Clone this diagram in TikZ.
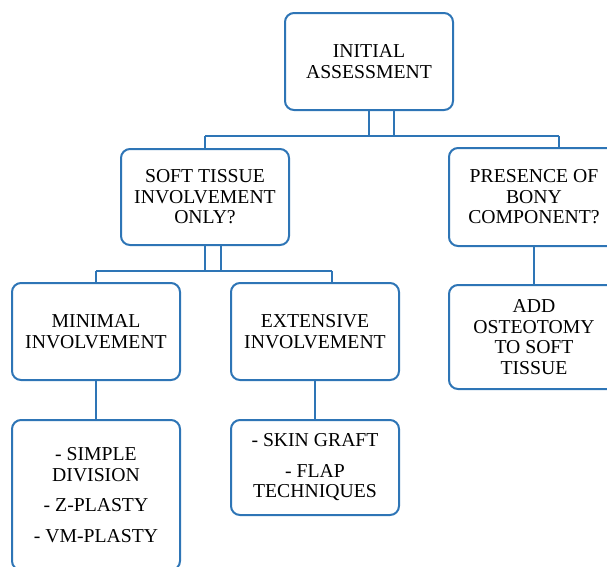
\documentclass[tikz,border=0pt]{standalone}
\usepackage{fontspec}
\setmainfont{Liberation Serif}
\usepackage{tikz}

\definecolor{boxblue}{RGB}{46,117,182}

\begin{document}
\begin{tikzpicture}[x=1pt, y=-1pt,
	box/.style={draw=boxblue, line width=2pt, rounded corners=9pt, fill=white,
		minimum width=168pt, minimum height=97pt, inner sep=2pt, align=center,
		font=\fontsize{19.7pt}{20.5pt}\selectfont},
	link/.style={draw=boxblue, line width=1.4pt}]
\useasboundingbox (0,0) rectangle (607,566);
\clip (0,0) rectangle (607,566);

	\node[box] (init) at (369,61.5) {INITIAL\\ASSESSMENT};
	\node[box, minimum height=96pt] (soft) at (205,197) {SOFT TISSUE\\INVOLVEMENT\\ONLY?};
	\node[box, minimum width=170pt, minimum height=98pt] (bony) at (534,197) {PRESENCE OF\\BONY\\COMPONENT?};
	\node[box] (minimal) at (96,331.5) {MINIMAL\\INVOLVEMENT};
	\node[box] (extensive) at (315,331.5) {EXTENSIVE\\INVOLVEMENT};
	\node[box, minimum width=170pt, minimum height=104pt] (osteo) at (534,337) {ADD\\OSTEOTOMY\\TO SOFT\\TISSUE};
	\node[box, minimum height=150pt] (minlist) at (96,495) {- SIMPLE\\DIVISION\\[10pt]- Z-PLASTY\\[10pt]- VM-PLASTY};
	\node[box, minimum height=95pt] (extlist) at (315,467.5) {- SKIN GRAFT\\[10pt]- FLAP\\TECHNIQUES};

	% first level
	\coordinate (top left) at (205,136);
	\coordinate (top right) at (559,136);
	\draw[link] (init.south) -- (init.south |- top left);
	\draw[link] ([xshift=25pt]init.south) -- ([xshift=25pt]init.south |- top left);
	\draw[link] (top left) -- (top right);
	\draw[link] (top left) -- (top left |- soft.north);
	\draw[link] (top right) -- (top right |- bony.north);

	% second level
	\coordinate (mid left) at (96,271);
	\coordinate (mid right) at (332,271);
	\draw[link] (soft.south) -- (soft.south |- mid left);
	\draw[link] ([xshift=16pt]soft.south) -- ([xshift=16pt]soft.south |- mid left);
	\draw[link] (mid left) -- (mid right);
	\draw[link] (mid left) -- (minimal.north);
	\draw[link] (mid right) -- (mid right |- extensive.north);
	\draw[link] (bony.south) -- (osteo.north);

	% lists
	\draw[link] (minimal.south) -- (minlist.north);
	\draw[link] (extensive.south) -- (extlist.north);
\end{tikzpicture}
\end{document}
